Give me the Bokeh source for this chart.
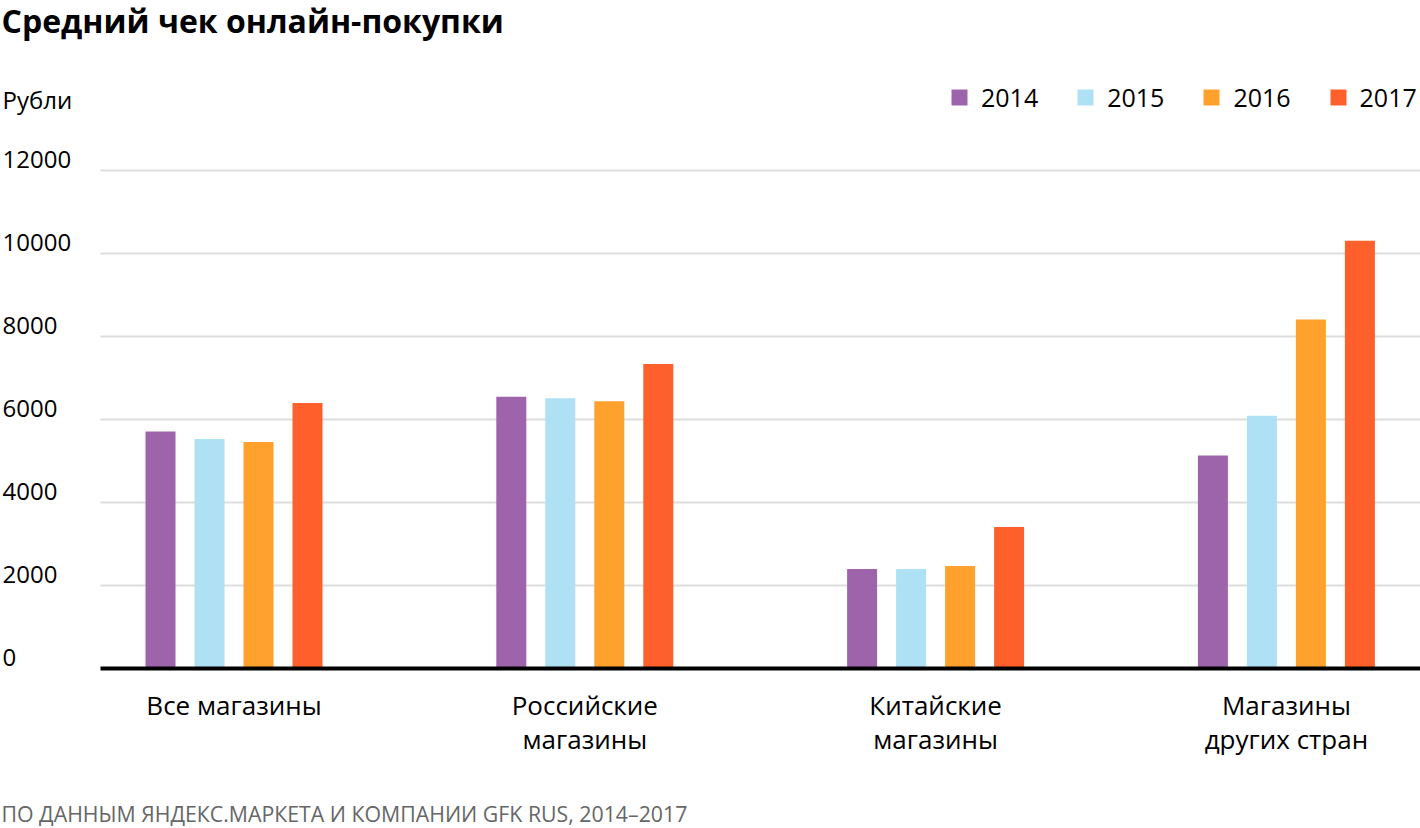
from bokeh.plotting import figure
from bokeh.models import ColumnDataSource, Range1d, Legend, LegendItem
from bokeh.transform import dodge
from bokeh.core.properties import value
from bokeh.embed import file_html
from bokeh.resources import INLINE

# ---------------- data ----------------
title_text = "Средний чек онлайн-покупки"
unit_label = "Рубли"
source_text = "ПО ДАННЫМ ЯНДЕКС.МАРКЕТА И КОМПАНИИ GFK RUS, 2014–2017"

categories = ["Все магазины", "Российские\nмагазины", "Китайские\nмагазины", "Магазины\nдругих стран"]
years = ["2014", "2015", "2016", "2017"]
values_2014 = [5710, 6550, 2400, 5130]
values_2015 = [5530, 6510, 2400, 6090]
values_2016 = [5460, 6440, 2470, 8410]
values_2017 = [6400, 7340, 3410, 10310]
colors = ["#9E64AB", "#AEE1F3", "#FFA12C", "#FF602B"]
y_ticks = [0, 2000, 4000, 6000, 8000, 10000, 12000]
y_tick_labels = ["0", "2000", "4000", "6000", "8000", "10000", "12000"]

# ---------------- layout constants ----------------
W, H = 1420, 828
GROUP_PX = 350.8        # px between group centres
CENTER0_PX = 233.5      # canvas px of first group centre
PX_PER_UNIT_Y = 0.0415  # px per rouble
ZERO_PX = 668           # canvas px (from top) of value 0
FONT = "Open Sans"

x_start = -CENTER0_PX / GROUP_PX
x_end = (W - CENTER0_PX) / GROUP_PX
y_end = ZERO_PX / PX_PER_UNIT_Y
y_start = -(H - ZERO_PX) / PX_PER_UNIT_Y


def xd(px):
    return (px - CENTER0_PX) / GROUP_PX


def yd(py):
    return (ZERO_PX - py) / PX_PER_UNIT_Y


p = figure(width=W, height=H, x_range=Range1d(x_start, x_end), y_range=Range1d(y_start, y_end),
           x_axis_type=None, y_axis_type=None, toolbar_location=None, output_backend="svg",
           min_border=0, outline_line_color=None, title=None)
p.background_fill_color = "white"
p.border_fill_color = "white"

grid_left = xd(100)
grid_vals = y_ticks[1:]
p.segment(x0=[grid_left] * len(grid_vals), y0=grid_vals, x1=[x_end] * len(grid_vals), y1=grid_vals,
          line_color="#DDDDDD", line_width=2)

src = ColumnDataSource(dict(idx=list(range(len(categories))),
                            y2014=values_2014, y2015=values_2015,
                            y2016=values_2016, y2017=values_2017))
step = 49 / GROUP_PX
bar_w = 30 / GROUP_PX
renderers = []
for i, (yr, col) in enumerate(zip(years, colors)):
    off = (i - 1.5) * step
    r = p.vbar(x=dodge("idx", off), top="y" + yr, width=bar_w, source=src,
               fill_color=col, line_color=None)
    renderers.append(r)

# zero line
p.segment(x0=[grid_left], y0=[0], x1=[x_end], y1=[0], line_color="black", line_width=4)

# y tick labels (sit just above their grid lines)
p.text(x=[xd(2)] * len(y_ticks), y=y_ticks, text=y_tick_labels, text_align="left",
       text_baseline="middle", y_offset=-11, text_font=value(FONT), text_font_size="24px",
       text_color="black")

# category labels
line1 = [c.split("\n")[0] for c in categories]
line2 = [c.split("\n")[1] if "\n" in c else "" for c in categories]
idx = list(range(len(categories)))
p.text(x=idx, y=[yd(704)] * len(idx), text=line1, text_align="center", text_baseline="middle",
       text_font=value(FONT), text_font_size="26px", text_color="black")
p.text(x=idx, y=[yd(738)] * len(idx), text=line2, text_align="center", text_baseline="middle",
       text_font=value(FONT), text_font_size="26px", text_color="black")

# title, unit, source
p.text(x=[xd(1)], y=[yd(20)], text=[title_text], text_align="left", text_baseline="middle",
       text_font=value(FONT), text_font_style="bold", text_font_size="32px", text_color="black")
p.text(x=[xd(2)], y=[yd(99)], text=[unit_label], text_align="left", text_baseline="middle",
       text_font=value(FONT), text_font_size="24px", text_color="black")
p.text(x=[xd(1)], y=[yd(813)], text=[source_text], text_align="left", text_baseline="middle",
       text_font=value(FONT), text_font_size="21.3px", text_color="#666666")

legend = Legend(items=[LegendItem(label=yr, renderers=[r]) for yr, r in zip(years, renderers)],
                orientation="horizontal", location=(949, 714), padding=0, margin=0, spacing=37,
                label_standoff=12, glyph_width=20, glyph_height=20,
                label_text_font=FONT, label_text_font_size="25px", label_text_color="black",
                border_line_color=None, background_fill_alpha=0)
p.add_layout(legend)

open("out.html", "w").write(file_html(p, INLINE))
